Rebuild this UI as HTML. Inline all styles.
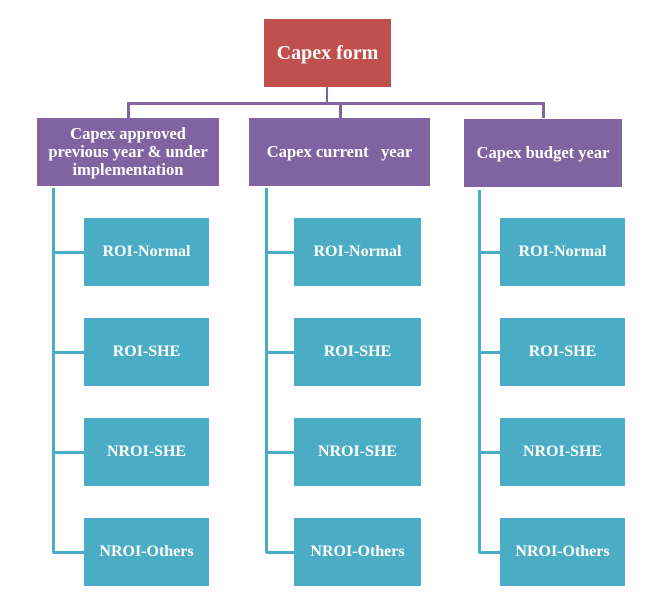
<!DOCTYPE html>
<html><head><style>
body{margin:0;width:650px;height:599px;background:#fff;position:relative;overflow:hidden;font-family:"Liberation Serif",serif;font-weight:bold;color:#fff}
.b{position:absolute;display:flex;align-items:center;justify-content:center;text-align:center;line-height:18px}
.r{background:#c0504d;font-size:20px}
.p{background:#8064a2;font-size:16.5px}
.t{background:#4bacc6;font-size:16px}
.l{position:absolute}
.pl{background:#8064a2}
.tl{background:#4bacc6}
</style></head><body>
<div class="b r" style="left:264px;top:19px;width:127px;height:68px">Capex form</div>
<div class="l pl" style="left:326px;top:87px;width:2px;height:17px"></div>
<div class="l pl" style="left:127px;top:102px;width:418px;height:3px"></div>
<div class="l pl" style="left:127px;top:102px;width:3px;height:16px"></div>
<div class="l pl" style="left:339px;top:102px;width:3px;height:16px"></div>
<div class="l pl" style="left:542px;top:102px;width:3px;height:16px"></div>
<div class="b p" style="left:37px;top:118px;width:182px;height:68px">Capex approved<br>previous year &amp; under<br>implementation</div>
<div class="b p" style="left:249px;top:118px;width:181px;height:68px">Capex current&nbsp;&nbsp; year</div>
<div class="b p" style="left:464px;top:119px;width:158px;height:68px">Capex budget year</div>

<div class="l tl" style="left:52px;top:188px;width:3px;height:365px"></div>
<div class="l tl" style="left:265px;top:188px;width:3px;height:365px"></div>
<div class="l tl" style="left:478px;top:190px;width:3px;height:363px"></div>

<div id="rows"></div>
<script>
var cols=[[53,84,125],[266,294,127],[479,500,125]];
var rows=[218,318,418,518];
var labels=["ROI-Normal","ROI-SHE","NROI-SHE","NROI-Others"];
var h="";
cols.forEach(function(c){rows.forEach(function(y,i){
h+='<div class="l tl" style="left:'+c[0]+'px;top:'+(y+33)+'px;width:'+(c[1]-c[0])+'px;height:3px"></div>';
h+='<div class="b t" style="left:'+c[1]+'px;top:'+y+'px;width:'+c[2]+'px;height:68px">'+labels[i]+'</div>';
});});
document.getElementById("rows").outerHTML=h;
</script>
</body></html>
